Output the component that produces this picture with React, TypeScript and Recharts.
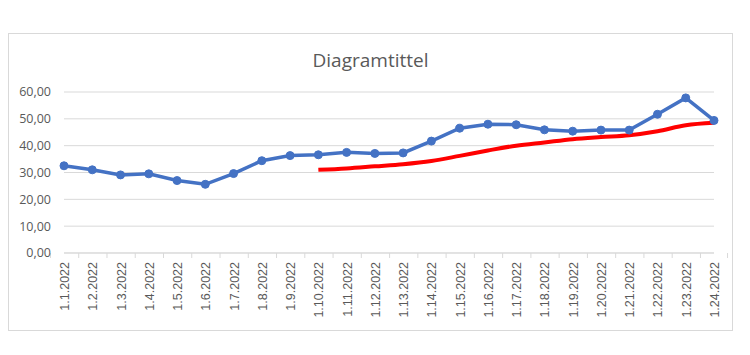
import { LineChart, Line, XAxis, YAxis, CartesianGrid } from 'recharts';

const dates = [
  '1.1.2022', '1.2.2022', '1.3.2022', '1.4.2022', '1.5.2022', '1.6.2022',
  '1.7.2022', '1.8.2022', '1.9.2022', '1.10.2022', '1.11.2022', '1.12.2022',
  '1.13.2022', '1.14.2022', '1.15.2022', '1.16.2022', '1.17.2022', '1.18.2022',
  '1.19.2022', '1.20.2022', '1.21.2022', '1.22.2022', '1.23.2022', '1.24.2022',
];

const actual = [
  32.5, 31.0, 29.1, 29.5, 27.0, 25.6, 29.6, 34.4, 36.3, 36.6, 37.5, 37.1,
  37.3, 41.7, 46.5, 48.0, 47.8, 45.9, 45.4, 45.8, 45.8, 51.7, 57.8, 49.4,
];

const trend = [
  null, null, null, null, null, null, null, null, null, 31.0, 31.5, 32.3,
  33.1, 34.3, 36.2, 38.2, 40.0, 41.2, 42.4, 43.2, 43.9, 45.4, 47.6, 48.5,
];

const yTicks = [0, 10, 20, 30, 40, 50, 60];

const data = dates.map((d, i) => ({ date: d, actual: actual[i], trend: trend[i] }));

const W = 723;
const H = 296;
const LEFT = 55;
const RIGHT = 18;
const BAND = (W - LEFT - RIGHT) / dates.length;
const GREY = '#595959';

function DateTick(props: any) {
  const { x, y, payload, index } = props;
  const last = index === dates.length - 1;
  return (
    <g>
      <line x1={x - BAND / 2} y1={y} x2={x - BAND / 2} y2={y + 5} stroke="#d9d9d9" />
      {last && <line x1={x + BAND / 2} y1={y} x2={x + BAND / 2} y2={y + 5} stroke="#d9d9d9" />}
      <text
        x={0}
        y={0}
        transform={`translate(${x + 5}, ${y + 9}) rotate(-90)`}
        textAnchor="end"
        fill={GREY}
        fontSize={12.5}
        fontFamily="'Liberation Sans', Arial, sans-serif"
      >
        {payload.value}
      </text>
    </g>
  );
}

export default function App() {
  return (
    <div
      style={{
        position: 'relative',
        marginTop: 25,
        width: W + 2,
        height: H + 2,
        border: '1px solid #d9d9d9',
        boxSizing: 'border-box',
        fontFamily: "'Open Sans', sans-serif",
      }}
    >
      <div
        style={{
          position: 'absolute',
          left: 0,
          width: W,
          top: 17,
          textAlign: 'center',
          fontSize: 19,
          lineHeight: '19px',
          color: GREY,
        }}
      >
        Diagramtittel
      </div>
      <LineChart width={W} height={H} data={data} margin={{ top: 58, right: RIGHT, bottom: 0, left: 0 }}>
        <CartesianGrid vertical={false} stroke="#d9d9d9" />
        <XAxis
          dataKey="date"
          interval={0}
          height={77}
          tickSize={0}
          tickMargin={0}
          tickLine={false}
          axisLine={{ stroke: '#d9d9d9' }}
          tick={<DateTick />}
        />
        <YAxis
          width={LEFT}
          domain={[0, 60]}
          ticks={yTicks}
          axisLine={false}
          tickLine={false}
          tickSize={0}
          tickMargin={13}
          tick={{ fill: GREY, fontSize: 12.5, fontFamily: "'Open Sans', sans-serif" }}
          tickFormatter={(v: number) => v.toFixed(2).replace('.', ',')}
        />
        <Line
          type="linear"
          dataKey="actual"
          stroke="#4472C4"
          strokeWidth={3.5}
          dot={{ r: 4, fill: '#4472C4', stroke: '#4472C4', strokeWidth: 1 }}
          activeDot={false}
          isAnimationActive={false}
        />
        <Line
          type="monotone"
          dataKey="trend"
          stroke="#FF0000"
          strokeWidth={4}
          dot={false}
          activeDot={false}
          isAnimationActive={false}
        />
      </LineChart>
    </div>
  );
}
